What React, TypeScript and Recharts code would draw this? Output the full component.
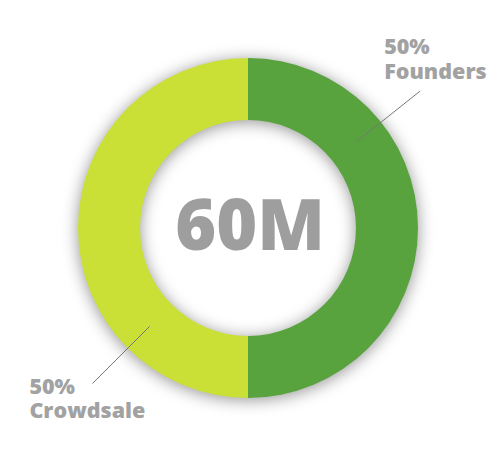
import { PieChart, Pie, Cell, Label } from "recharts";

// slice names and shares
const NAMES = ["Founders", "Crowdsale"];
const VALUES = [50, 50];
const TOTAL_LABEL = "60M";

const COLORS = ["#58a33d", "#cbe037"];
const TEXT_GRAY = "#a2a2a2";
const FONT = "'Open Sans', 'DejaVu Sans', sans-serif";

const data = NAMES.map((name, i) => ({ name, value: VALUES[i] }));
const ring = [{ name: "all", value: VALUES.reduce((a, b) => a + b, 0) }];

const RADIAN = Math.PI / 180;
// label lines sit a bit past each slice's middle
const ANGLE_OFFSET = [38.5, 45];

const renderLabel = (props: any) => {
  const { cx, cy, midAngle, innerRadius, outerRadius, index, percent, name } = props;
  const a = (midAngle + ANGLE_OFFSET[index]) * RADIAN;
  const r0 = (innerRadius + outerRadius) / 2;
  const r1 = outerRadius + 50;
  const x0 = cx + r0 * Math.cos(-a);
  const y0 = cy + r0 * Math.sin(-a);
  const x1 = cx + r1 * Math.cos(-a);
  const y1 = cy + r1 * Math.sin(-a);
  const right = Math.cos(-a) > 0;
  const tx = right ? x1 - 36 : x1 - 63;
  const ty = right ? y1 - 37 : y1 + 10;
  return (
    <g>
      <line x1={x0} y1={y0} x2={x1} y2={y1} stroke="#777" strokeWidth={1} />
      <text x={tx} y={ty} fill={TEXT_GRAY} fontFamily={FONT} fontWeight={800} fontSize={21.5}>
        <tspan x={tx}>{`${Math.round(percent * 100)}%`}</tspan>
        <tspan x={tx} dy={24.5}>{name}</tspan>
      </text>
    </g>
  );
};

export default function App() {
  return (
    <div style={{ position: "absolute", left: 0, top: 0, width: 500, height: 460, background: "#fff" }}>
      <PieChart width={500} height={460} margin={{ top: 0, right: 0, bottom: 0, left: 0 }}>
        <defs>
          <filter id="ringShadow" x="-30%" y="-30%" width="160%" height="160%">
            <feGaussianBlur stdDeviation={8} />
          </filter>
        </defs>
        {/* soft shadow under the ring */}
        <Pie
          data={ring}
          dataKey="value"
          cx={248}
          cy={230}
          innerRadius={108}
          outerRadius={170}
          stroke="none"
          isAnimationActive={false}
        >
          <Cell fill="#000" fillOpacity={0.42} style={{ filter: "url(#ringShadow)" }} />
        </Pie>
        <Pie
          data={data}
          dataKey="value"
          nameKey="name"
          cx={248}
          cy={228}
          innerRadius={108}
          outerRadius={170}
          startAngle={90}
          endAngle={-270}
          stroke="none"
          label={renderLabel}
          labelLine={false}
          isAnimationActive={false}
        >
          {data.map((_e, i) => (
            <Cell key={i} fill={COLORS[i % COLORS.length]} />
          ))}
          <Label
            value={TOTAL_LABEL}
            position="center"
            fill="#9e9e9e"
            fontFamily={FONT}
            fontWeight={800}
            fontSize={70}
            dy={-5}
          />
        </Pie>
      </PieChart>
    </div>
  );
}
